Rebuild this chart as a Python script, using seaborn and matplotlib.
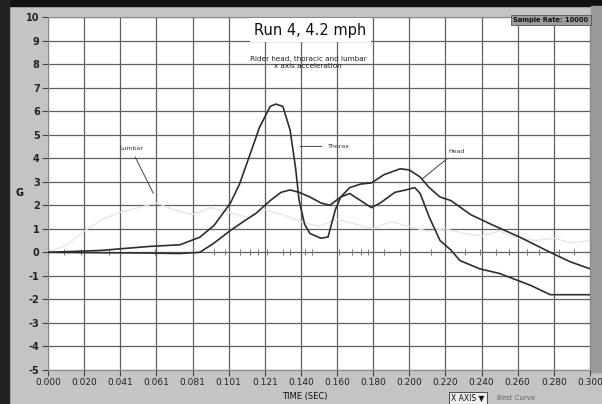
import numpy as np
import pandas as pd
import seaborn as sns
import matplotlib
matplotlib.use("Agg")
import matplotlib.pyplot as plt
from matplotlib.patches import Rectangle

# ---------------- data ----------------
thorax_t = [0.000, 0.029, 0.056, 0.073, 0.084, 0.092, 0.101, 0.106, 0.112, 0.117,
            0.123, 0.126, 0.130, 0.134, 0.137, 0.139, 0.142, 0.145, 0.151, 0.155,
            0.159, 0.162, 0.167, 0.173, 0.179, 0.184, 0.192, 0.198, 0.203, 0.206,
            0.211, 0.217, 0.223, 0.228, 0.239, 0.250, 0.267, 0.278, 0.289, 0.300]
thorax_g = [0.00, 0.08, 0.25, 0.32, 0.64, 1.15, 2.10, 2.90, 4.20, 5.30,
            6.20, 6.30, 6.20, 5.20, 3.60, 2.20, 1.20, 0.80, 0.60, 0.65,
            1.80, 2.35, 2.50, 2.20, 1.90, 2.10, 2.55, 2.65, 2.75, 2.50,
            1.50, 0.50, 0.10, -0.35, -0.70, -0.90, -1.40, -1.80, -1.80, -1.80]

head_t = [0.000, 0.056, 0.073, 0.084, 0.092, 0.101, 0.109, 0.115, 0.123, 0.129,
          0.134, 0.139, 0.145, 0.151, 0.156, 0.162, 0.167, 0.173, 0.179, 0.186,
          0.195, 0.200, 0.206, 0.211, 0.217, 0.223, 0.234, 0.245, 0.261, 0.278,
          0.289, 0.300]
head_g = [0.00, -0.03, -0.05, 0.00, 0.40, 0.93, 1.35, 1.65, 2.20, 2.55,
          2.65, 2.55, 2.35, 2.10, 2.00, 2.35, 2.75, 2.90, 2.95, 3.30,
          3.55, 3.50, 3.20, 2.75, 2.35, 2.20, 1.60, 1.20, 0.65, 0.00,
          -0.40, -0.70]

lumbar_t = [0.00, 0.01, 0.02, 0.03, 0.04, 0.05, 0.06, 0.07, 0.08, 0.09, 0.10,
            0.11, 0.12, 0.13, 0.14, 0.15, 0.16, 0.17, 0.18, 0.19, 0.20,
            0.21, 0.22, 0.23, 0.24, 0.25, 0.26, 0.27, 0.28, 0.29, 0.30]
lumbar_g = [0.0, 0.3, 0.9, 1.4, 1.7, 1.9, 2.1, 1.8, 1.6, 1.9, 1.7,
            1.5, 1.8, 1.6, 1.3, 1.1, 1.4, 1.2, 1.0, 1.3, 1.1,
            0.9, 1.0, 0.8, 0.7, 0.9, 0.6, 0.5, 0.6, 0.4, 0.5]

zero_marks_t = [0.009, 0.018, 0.034, 0.059, 0.092, 0.098, 0.106, 0.112, 0.116,
                0.121, 0.130, 0.134, 0.142, 0.146, 0.161, 0.168, 0.173, 0.177,
                0.186, 0.195, 0.212, 0.231, 0.239, 0.248, 0.255, 0.265, 0.272,
                0.283, 0.291]

x_ticks = [0.00, 0.02, 0.04, 0.06, 0.08, 0.10, 0.12, 0.14, 0.16, 0.18,
           0.20, 0.22, 0.24, 0.26, 0.28, 0.30]
x_tick_labels = ["0.000", "0.020", "0.041", "0.061", "0.081", "0.101", "0.121",
                 "0.140", "0.160", "0.180", "0.200", "0.220", "0.240", "0.260",
                 "0.280", "0.300"]
y_ticks = list(range(-5, 11))

title = "Run 4, 4.2 mph"
subtitle = "Rider head, thoracic and lumbar\nx axis acceleration"

# ---------------- figure ----------------
sns.set_theme(style="white")
plt.rcParams['font.family'] = ['DejaVu Sans']

W, H = 602, 404
fig = plt.figure(figsize=(W / 100, H / 100), dpi=100, facecolor="#c4c4c4")

def fx(px):
    return px / W

def fy(py):
    return 1 - py / H

# frame decorations
fig.patches.append(Rectangle((0, fy(6)), 1, 6 / H, transform=fig.transFigure,
                             color="#111111", zorder=0))
fig.patches.append(Rectangle((0, 0), fx(9), 1, transform=fig.transFigure,
                             color="#222222", zorder=0))
fig.patches.append(Rectangle((fx(591), fy(372)), fx(11), (372 - 6) / H, transform=fig.transFigure,
                             color="#9a9a9a", zorder=0))

ax = fig.add_axes([fx(48), fy(370), fx(542), (370 - 17) / H])
ax.set_zorder(2)
ax.set_facecolor("white")

df_l = pd.DataFrame({"t": lumbar_t, "g": lumbar_g})
df_t = pd.DataFrame({"t": thorax_t, "g": thorax_g})
df_h = pd.DataFrame({"t": head_t, "g": head_g})
df_z = pd.DataFrame({"t": zero_marks_t, "g": [0.0] * len(zero_marks_t)})

sns.lineplot(data=df_l, x="t", y="g", ax=ax, color="#e4e4e4", linewidth=0.9, sort=False, zorder=2)
sns.scatterplot(data=df_z, x="t", y="g", ax=ax, marker="|", s=18, color="#777777",
                linewidth=0.7, zorder=3)
sns.lineplot(data=df_h, x="t", y="g", ax=ax, color="#2e2e2e", linewidth=1.2, sort=False, zorder=4)
sns.lineplot(data=df_t, x="t", y="g", ax=ax, color="#2e2e2e", linewidth=1.2, sort=False, zorder=4)

ax.set_xlim(0, 0.30)
ax.set_ylim(-5, 10)
ax.set_xticks(x_ticks)
ax.set_xticklabels(x_tick_labels, fontsize=6.5, color="#222222")
ax.set_yticks(y_ticks)
ax.set_yticklabels([str(v) for v in y_ticks], fontsize=7, color="#222222", fontweight="bold")
ax.tick_params(axis="both", length=4, width=0.8, color="#444444", direction="out", pad=2,
               bottom=True, left=True)
ax.grid(True, color="#606060", linewidth=0.9)
ax.set_axisbelow(True)
for s in ax.spines.values():
    s.set_color("#888888")
    s.set_linewidth(0.8)
ax.set_xlabel("")
ax.set_ylabel("")

# annotations
ax.annotate("Lumbar", xy=(0.059, 2.4), xytext=(0.046, 4.4), fontsize=4.5, color="#333333",
            ha="center", va="center",
            arrowprops=dict(arrowstyle="-", color="#444444", lw=0.7))
ax.annotate("Thorax", xy=(0.138, 4.5), xytext=(0.155, 4.5), fontsize=4.5, color="#333333",
            ha="left", va="center",
            arrowprops=dict(arrowstyle="-", color="#444444", lw=0.7))
ax.annotate("Head", xy=(0.206, 3.05), xytext=(0.226, 4.3), fontsize=4.5, color="#333333",
            ha="center", va="center",
            arrowprops=dict(arrowstyle="-", color="#444444", lw=0.7))

fig.text(fx(310), fy(30), title, fontsize=10.5, ha="center", va="center", color="#111111",
         zorder=5, bbox=dict(boxstyle="square,pad=0.3", facecolor="white", edgecolor="none"))
fig.text(fx(308), fy(63), subtitle, fontsize=5.2, ha="center", va="center", color="#222222",
         linespacing=1.2, zorder=5)
fig.text(fx(551), fy(20), "Sample Rate: 10000", fontsize=4.8, ha="center", va="center",
         color="#111111", fontweight="bold", zorder=5,
         bbox=dict(boxstyle="square,pad=0.35", facecolor="#9c9c9c", edgecolor="#555555", lw=0.6))

fig.text(fx(19), fy(193), "G", fontsize=7, ha="center", va="center", color="#111111",
         fontweight="bold")
fig.text(fx(305), fy(397), "TIME (SEC)", fontsize=6, ha="center", va="center", color="#111111")
fig.text(fx(468), fy(398), "X AXIS \u25BC", fontsize=5.5, ha="center", va="center", color="#111111",
         bbox=dict(boxstyle="square,pad=0.25", facecolor="#eeeeee", edgecolor="#333333", lw=0.6))
fig.text(fx(497), fy(398), "Best Curve", fontsize=5, ha="left", va="center", color="#666666")

fig.savefig("out.png", dpi=100, facecolor=fig.get_facecolor())
